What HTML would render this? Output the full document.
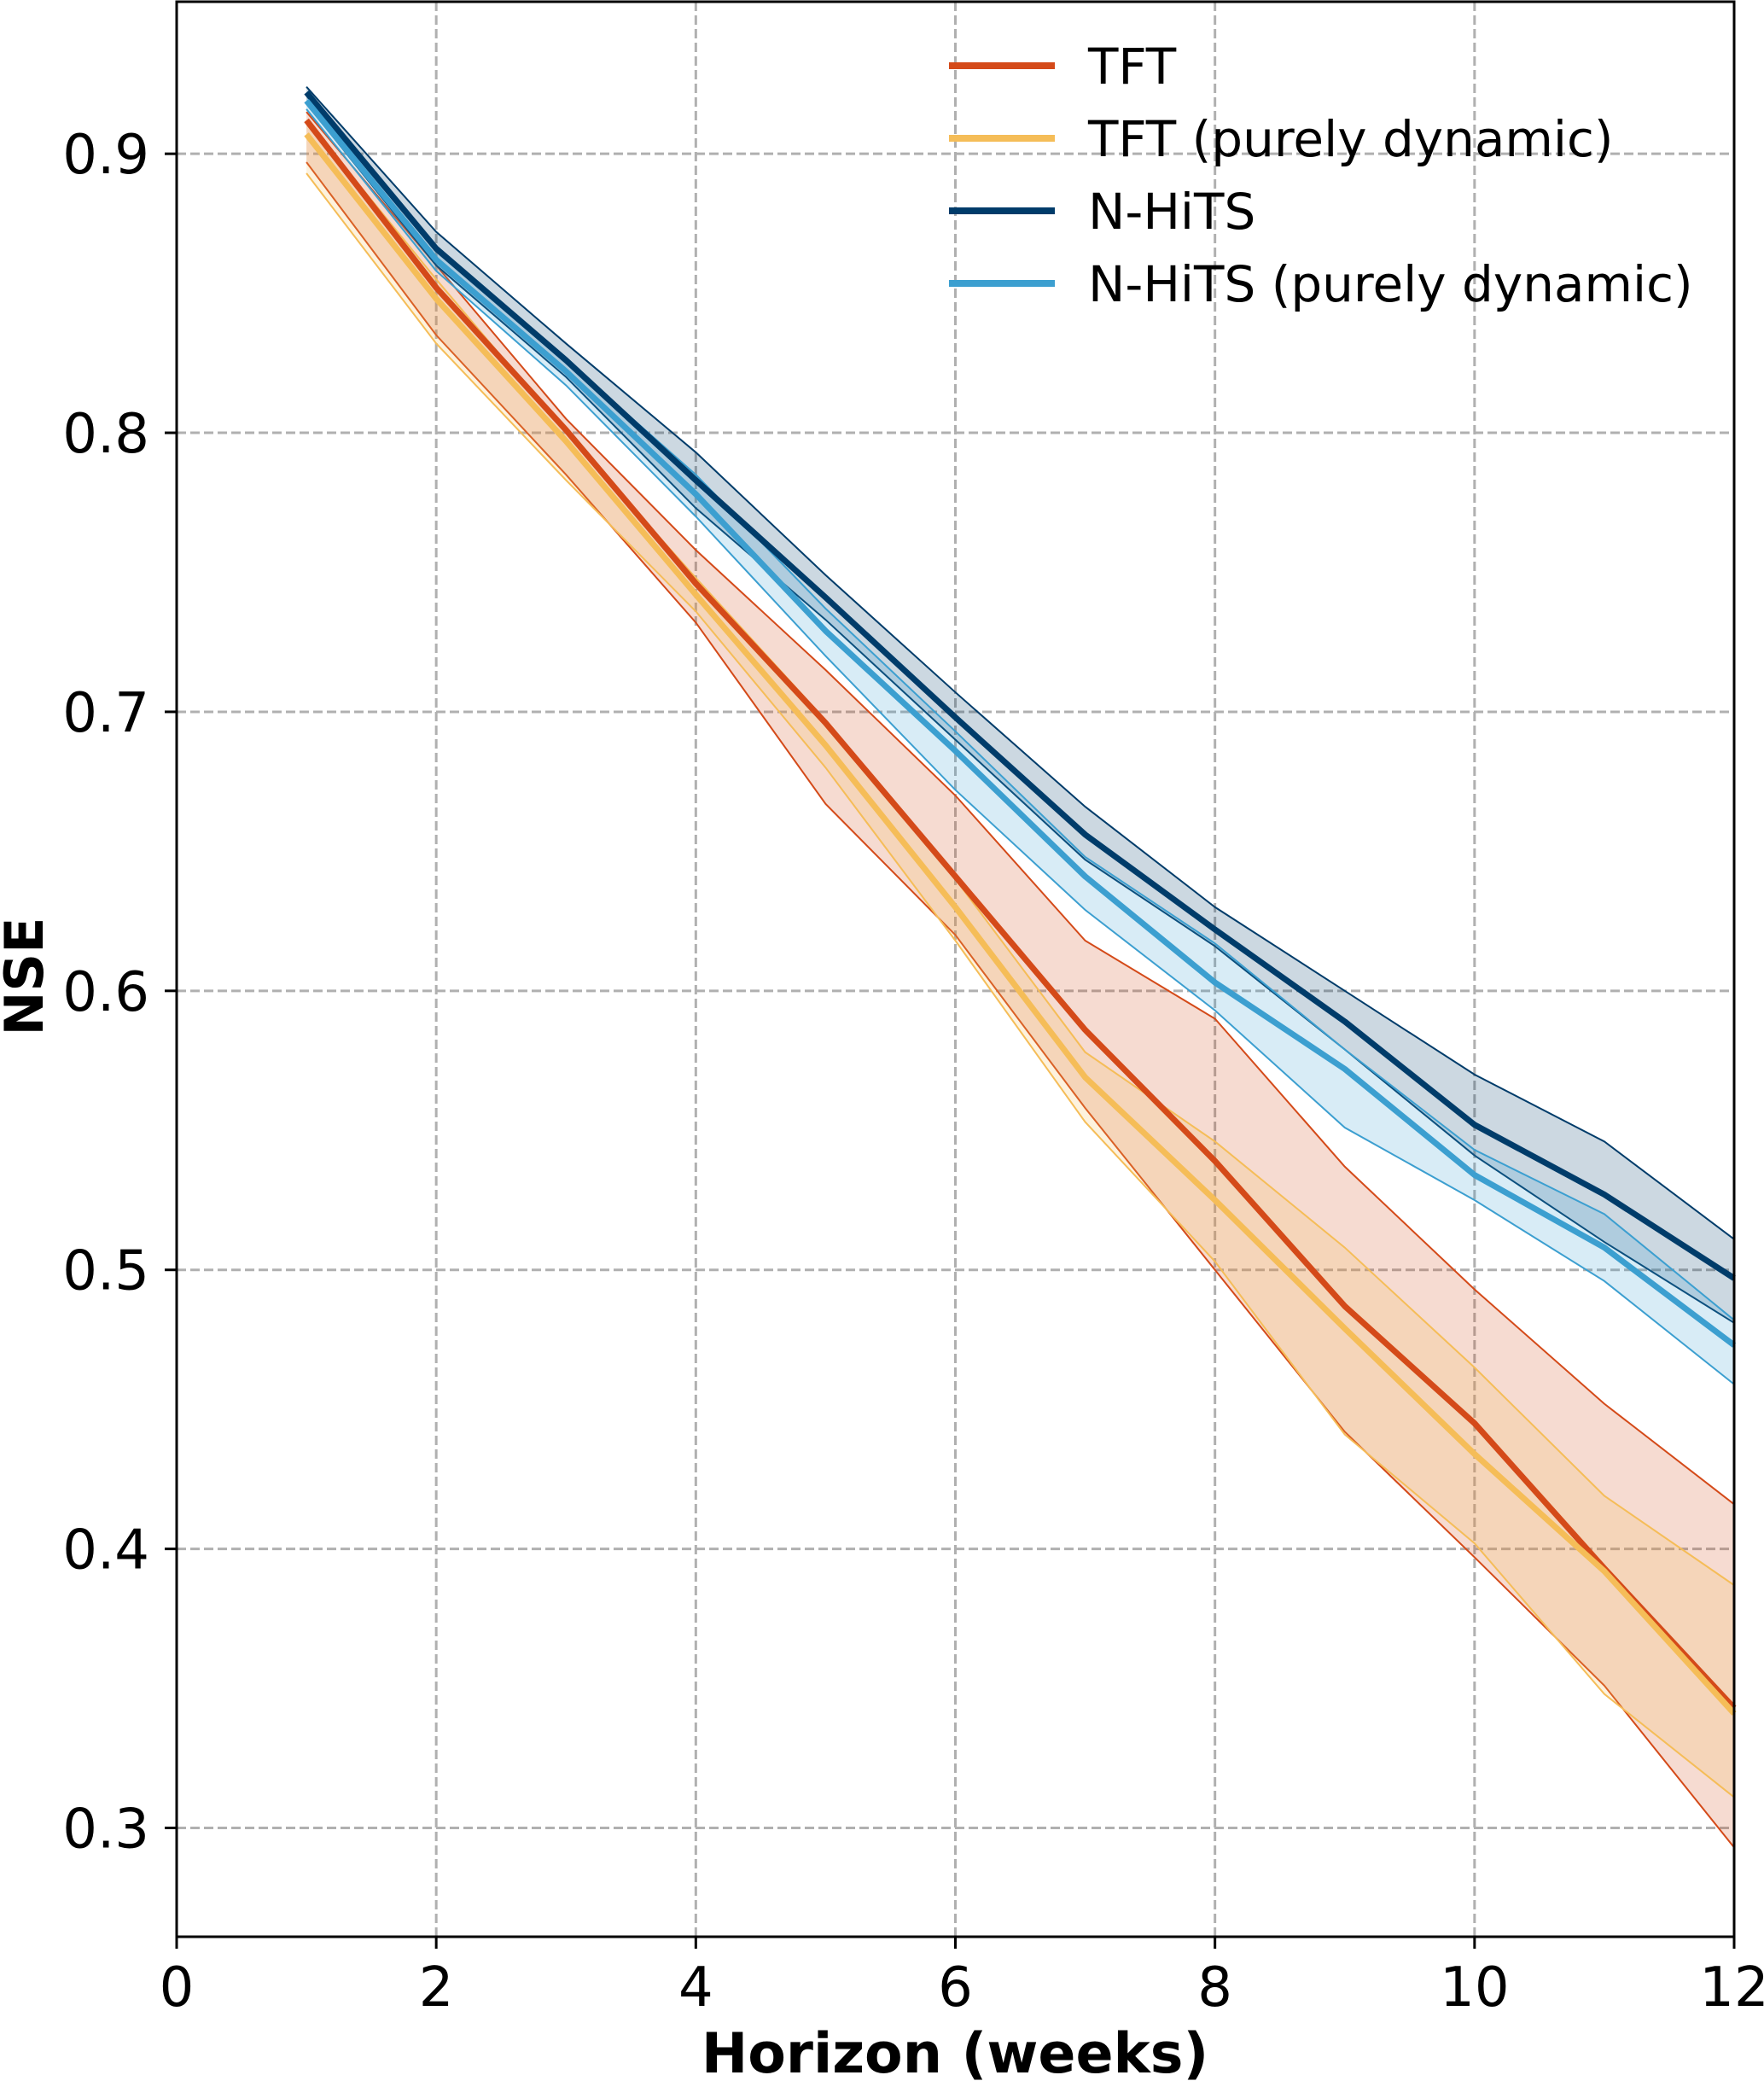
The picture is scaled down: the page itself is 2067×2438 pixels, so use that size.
<!DOCTYPE html>
<html><head><meta charset="utf-8"><style>
html,body{margin:0;padding:0;background:#fff;}
svg{display:block;font-family:"DejaVu Sans","Liberation Sans",sans-serif;}
</style></head><body>
<svg id="chart" width="2067" height="2438" viewBox="0 0 2067 2438" xmlns="http://www.w3.org/2000/svg">
<g id="grid"></g>
<g id="series"></g>
<g id="axes"></g>
<g id="legend"></g>
<text x="1119" y="2428" font-size="65" font-weight="bold" text-anchor="middle">Horizon (weeks)</text>
<text transform="translate(50,1144) rotate(-90)" font-size="62" font-weight="bold" text-anchor="middle">NSE</text>
</svg>
<script>
const horizons=[1,2,3,4,5,6,7,8,9,10,11,12];
const xTicks=[0,2,4,6,8,10,12];
const yTicks=[0.3,0.4,0.5,0.6,0.7,0.8,0.9];
const yTickLabels=["0.3","0.4","0.5","0.6","0.7","0.8","0.9"];
const tftMean=[.912,.852,.801,.746,.696,.641,.586,.539,.487,.445,.393,.343];
const tftUpper=[.915,.860,.805,.758,.715,.670,.618,.590,.537,.493,.452,.416];
const tftLower=[.897,.835,.785,.732,.667,.620,.558,.500,.442,.397,.351,.293];
const tftPdMean=[.907,.848,.797,.742,.688,.630,.569,.525,.479,.434,.392,.341];
const tftPdUpper=[.912,.855,.800,.748,.697,.640,.578,.546,.508,.465,.419,.387];
const tftPdLower=[.893,.832,.783,.736,.680,.618,.553,.503,.441,.402,.348,.311];
const nhMean=[.922,.866,.826,.783,.741,.698,.656,.622,.589,.552,.527,.497];
const nhUpper=[.924,.872,.832,.793,.749,.707,.666,.630,.600,.570,.546,.511];
const nhLower=[.918,.860,.820,.773,.733,.690,.647,.616,.579,.541,.510,.481];
const nhPdMean=[.919,.862,.822,.778,.729,.686,.641,.603,.572,.534,.508,.473];
const nhPdUpper=[.921,.866,.826,.785,.737,.693,.648,.617,.579,.543,.520,.482];
const nhPdLower=[.916,.858,.817,.770,.720,.672,.629,.593,.551,.525,.496,.459];
const legendLabels=["TFT","TFT (purely dynamic)","N-HiTS","N-HiTS (purely dynamic)"];

const L=207,R=2032,T=2,B=2269,xMin=0,xMax=12,yMin=0.261,yMax=0.9545;
function xs(v){return L+(v-xMin)/(xMax-xMin)*(R-L);}
function ys(v){return B-(v-yMin)/(yMax-yMin)*(B-T);}
const NS="http://www.w3.org/2000/svg";
function mk(tag,attrs,parent){const e=document.createElementNS(NS,tag);for(const k in attrs)e.setAttribute(k,attrs[k]);parent.appendChild(e);return e;}
const grid=document.getElementById('grid'),ser=document.getElementById('series'),axes=document.getElementById('axes'),leg=document.getElementById('legend');

xTicks.forEach(t=>{
  if(t>xMin&&t<xMax){const g=mk('line',{x1:xs(t),x2:xs(t),y1:T,y2:B,stroke:'#b0b0b0','stroke-width':3,'stroke-dasharray':'11,5'},grid);
  
  }
  const tk=mk('line',{x1:xs(t),x2:xs(t),y1:B,y2:B+14,stroke:'#000','stroke-width':3},axes);
  
  
  const lb=mk('text',{x:xs(t),y:B+81,'font-size':64,'text-anchor':'middle'},axes);lb.textContent=String(t);
  
  
});
yTicks.forEach((t,i)=>{
  const g=mk('line',{x1:L,x2:R,y1:ys(t),y2:ys(t),stroke:'#b0b0b0','stroke-width':3,'stroke-dasharray':'11,5'},grid);
  
  
  const tk=mk('line',{x1:L-14,x2:L,y1:ys(t),y2:ys(t),stroke:'#000','stroke-width':3},axes);
  
  
  const lb=mk('text',{x:L-32,y:ys(t)+23,'font-size':64,'text-anchor':'end'},axes);lb.textContent=yTickLabels[i];
  
  
});
const frame=mk('rect',{x:L,y:T,width:R-L,height:B-T,fill:'none',stroke:'#000','stroke-width':3},axes);



function pts(arr){return arr.map((v,i)=>xs(horizons[i])+','+ys(v)).join(' ');}
const series=[
 {name:'tft',color:'#d44a19',mean:tftMean,up:tftUpper,lo:tftLower},
 {name:'tft-purely-dynamic',color:'#f5bd58',mean:tftPdMean,up:tftPdUpper,lo:tftPdLower},
 {name:'nhits',color:'#003c6a',mean:nhMean,up:nhUpper,lo:nhLower},
 {name:'nhits-purely-dynamic',color:'#3c9fd0',mean:nhPdMean,up:nhPdUpper,lo:nhPdLower}
];
series.forEach(s=>{
  const band=mk('polygon',{points:pts(s.up)+' '+s.lo.map((v,i)=>xs(horizons[i])+','+ys(v)).reverse().join(' '),fill:s.color,'fill-opacity':0.2,stroke:'none'},ser);
  
  
  const u=mk('polyline',{points:pts(s.up),fill:'none',stroke:s.color,'stroke-width':2},ser);
  
  
  const l=mk('polyline',{points:pts(s.lo),fill:'none',stroke:s.color,'stroke-width':2},ser);
  
  
});
series.forEach(s=>{
  const m=mk('polyline',{points:pts(s.mean),fill:'none',stroke:s.color,'stroke-width':7,'stroke-linejoin':'round'},ser);
  
  
});
legendLabels.forEach((lab,i)=>{
  const y=77+i*85;
  const ln=mk('line',{x1:1112,x2:1236,y1:y,y2:y,stroke:series[i].color,'stroke-width':8},leg);
  
  
  const t=mk('text',{x:1275,y:y+21,'font-size':58},leg);t.textContent=lab;
  
  
});
</script>
</body></html>
